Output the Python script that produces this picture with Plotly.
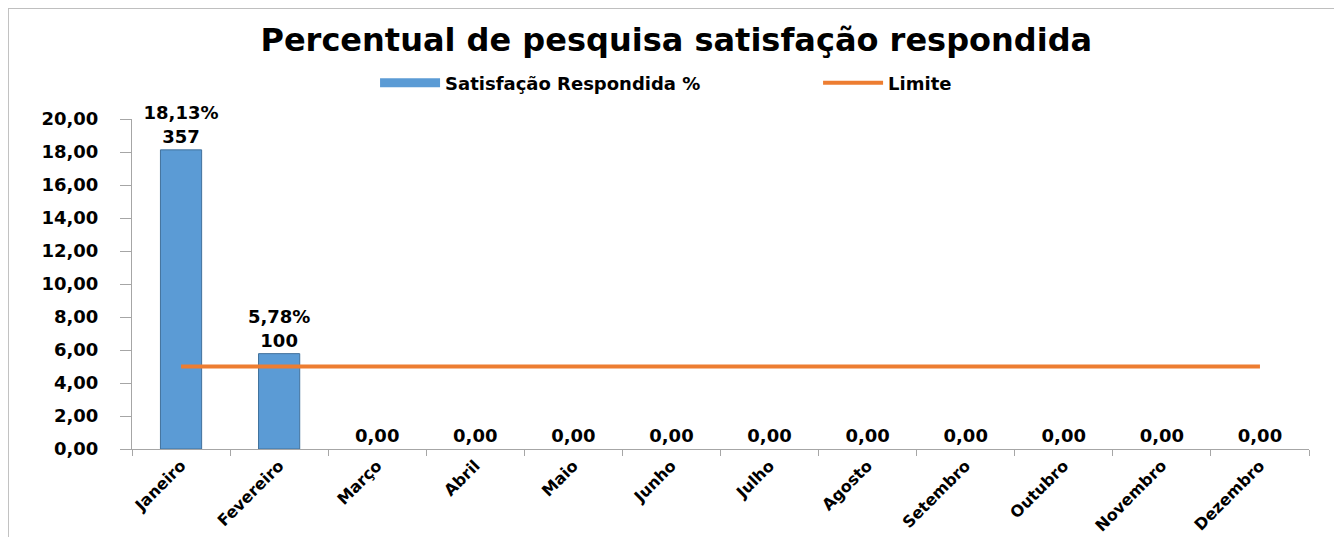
import plotly.graph_objects as go

meses = ["Janeiro", "Fevereiro", "Março", "Abril", "Maio", "Junho", "Julho",
         "Agosto", "Setembro", "Outubro", "Novembro", "Dezembro"]
satisfacao = [18.13, 5.78, 0, 0, 0, 0, 0, 0, 0, 0, 0, 0]
respondidas = [357, 100, None, None, None, None, None, None, None, None, None, None]
limite = [5, 5, 5, 5, 5, 5, 5, 5, 5, 5, 5, 5]
y_ticks = [0, 2, 4, 6, 8, 10, 12, 14, 16, 18, 20]


def fmt(v):
    return f"{v:.2f}".replace(".", ",")


labels = []
for v, n in zip(satisfacao, respondidas):
    if n is None:
        labels.append(fmt(v))
    else:
        labels.append(f"{fmt(v)}%<br>{n}")

border_w = [1 if v > 0 else 0 for v in satisfacao]

FONT = "DejaVu Sans"
BLUE = "#5B9BD5"
ORANGE = "#ED7D31"

fig = go.Figure()
fig.add_trace(go.Bar(
    x=meses, y=satisfacao, name="Satisfação Respondida %",
    marker=dict(color=BLUE, line=dict(color="#41719C", width=border_w)),
    text=labels, textposition="outside", cliponaxis=False,
    constraintext="none",
    textfont=dict(family=FONT, size=18, color="#000000", weight="bold"),
    showlegend=False,
))
# legend entry for the bar series (wide rectangle key, as in the reference)
fig.add_trace(go.Scatter(
    x=[None], y=[None], name="Satisfação Respondida %", mode="lines",
    line=dict(color=BLUE, width=9), legend="legend",
))
fig.add_trace(go.Scatter(
    x=meses, y=limite, name="Limite", mode="lines",
    line=dict(color=ORANGE, width=4), legend="legend2",
))

legend_font = dict(family=FONT, size=18, color="#000000", weight="bold")

fig.update_layout(
    width=1342, height=537,
    paper_bgcolor="white", plot_bgcolor="white",
    margin=dict(l=124, r=41, t=111, b=96, autoexpand=False),
    separators=",.",
    bargap=0.58,
    font=dict(family=FONT, color="#000000"),
    title=dict(text="<b>Percentual de pesquisa satisfação respondida</b>",
               x=0.498, xanchor="center", y=0.940, yanchor="middle",
               font=dict(family=FONT, size=32, color="#000000")),
    legend=dict(orientation="h", x=0.2065, xanchor="left", y=1.109, yanchor="middle",
                font=legend_font, bgcolor="rgba(0,0,0,0)", itemwidth=60),
    legend2=dict(orientation="h", x=0.5829, xanchor="left", y=1.109, yanchor="middle",
                 font=legend_font, bgcolor="rgba(0,0,0,0)", itemwidth=60),
    showlegend=True,
    shapes=[
        dict(type="line", xref="paper", yref="paper", x0=-0.1054, x1=1.2, y0=1.336, y1=1.336,
             line=dict(color="#BFBFBF", width=2)),
        dict(type="line", xref="paper", yref="paper", x0=-0.1054, x1=-0.1054, y0=1.336, y1=-0.3,
             line=dict(color="#BFBFBF", width=2)),
    ],
)
fig.update_yaxes(
    range=[0, 20], tickvals=y_ticks, tickformat=".2f",
    showgrid=False, zeroline=False, automargin=False,
    showline=True, linecolor="#A6A6A6", linewidth=1,
    ticks="outside", ticklen=11, tickcolor="#A6A6A6", ticklabelstandoff=18,
    tickfont=dict(family=FONT, size=18, color="#000000", weight="bold"),
)
fig.update_xaxes(
    showgrid=False, showline=True, linecolor="#A6A6A6", linewidth=1, automargin=False,
    ticks="outside", ticklen=6, tickcolor="#A6A6A6", tickson="boundaries",
    tickangle=-45,
    tickfont=dict(family=FONT, size=16, color="#000000", weight="bold"),
)

fig.write_html("out.html")
